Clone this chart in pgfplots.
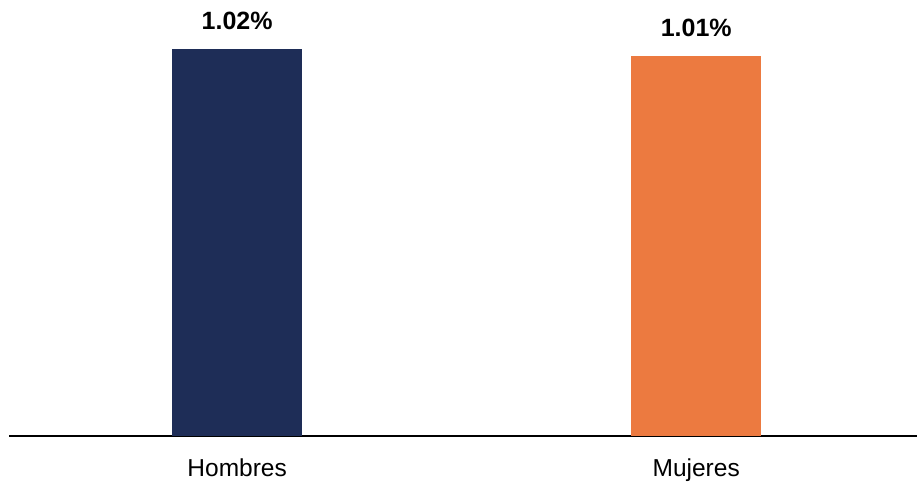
\documentclass[border=0pt]{standalone}
\usepackage{pgfplots}
\pgfplotsset{compat=1.18}
\usepackage{fontspec}
\setmainfont{Liberation Sans}
\definecolor{navy}{HTML}{1E2D57}
\definecolor{orng}{HTML}{EC7A40}
\begin{document}
\begin{tikzpicture}
\useasboundingbox (0,0) rectangle (917pt,484pt);
\begin{axis}[
  at={(9pt,48pt)}, anchor=south west,
  scale only axis, width=908pt, height=436pt,
  xmin=-0.497, xmax=1.481, ymin=0.466, ymax=1.090,
  axis x line*=bottom, hide y axis,
  x axis line style={line width=2.4pt, -},
  xtick={0,1}, xticklabels={Hombres,Mujeres},
  major tick length=0pt,
  xticklabel style={anchor=base, yshift=-40pt, font=\fontsize{24.5}{29}\selectfont},
  clip=false,
  ybar, bar width=130pt, bar shift=0pt,
  nodes near coords, point meta=explicit symbolic,
  nodes near coords style={anchor=base, yshift=19pt, font=\fontsize{25}{30}\selectfont\bfseries},
]
\addplot[fill=navy, draw=none] coordinates {(0,1.02) [1.02\%]};
\addplot[fill=orng, draw=none] coordinates {(1,1.01) [1.01\%]};
\end{axis}
\end{tikzpicture}
\end{document}
